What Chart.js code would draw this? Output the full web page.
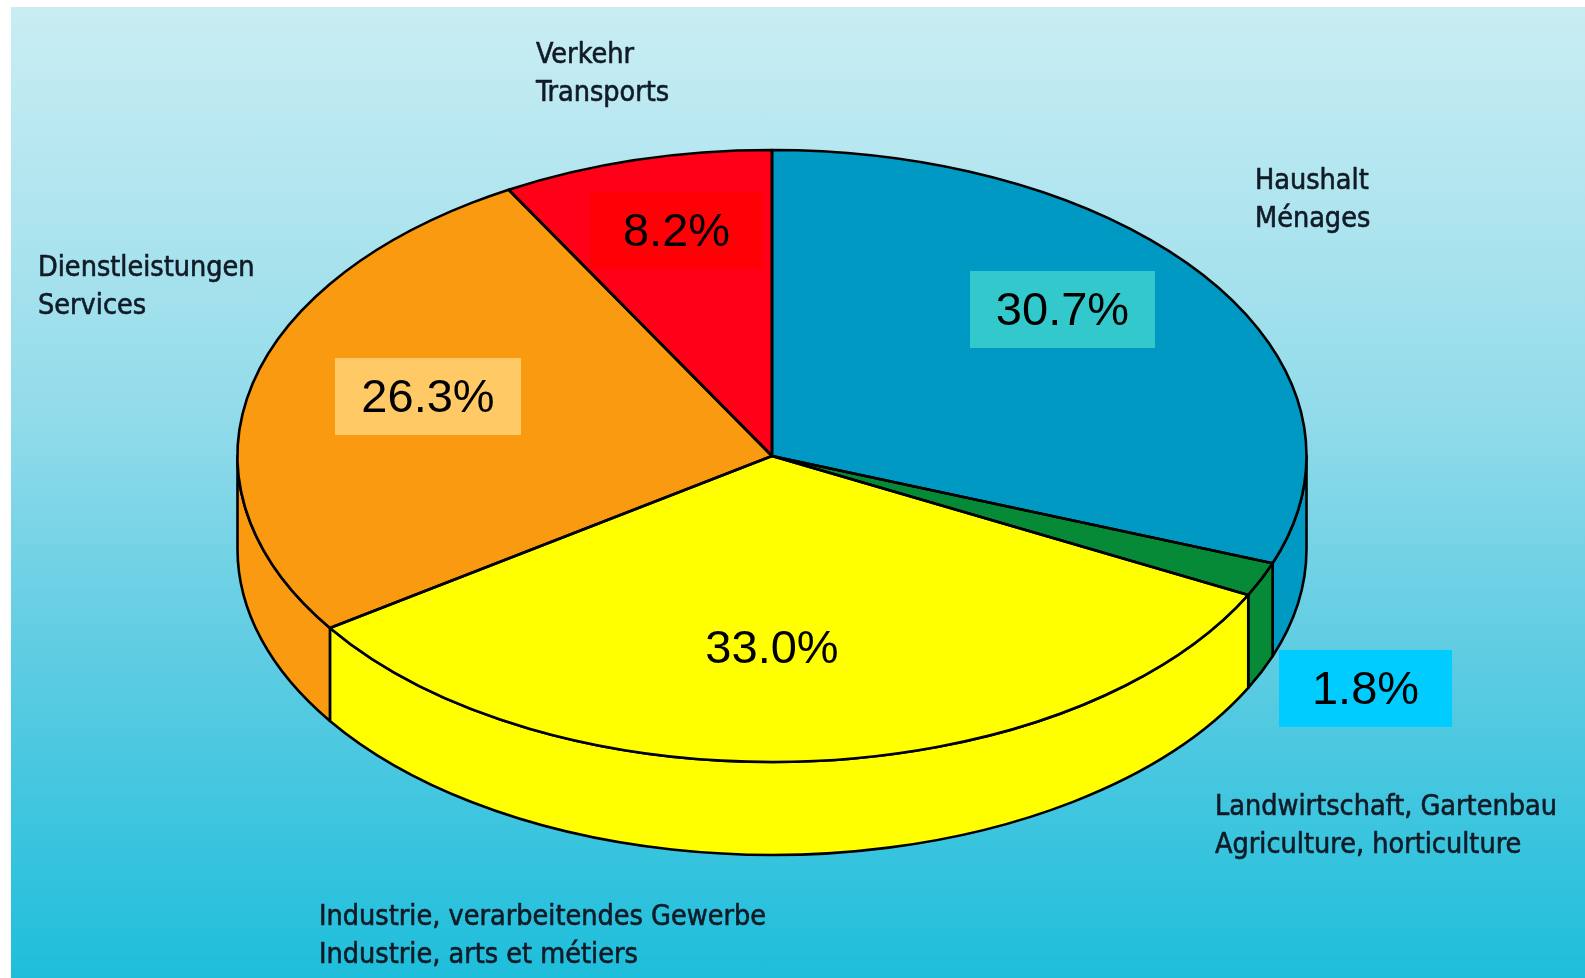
<!DOCTYPE html>
<html>
<head>
<meta charset="utf-8">
<script src="https://cdn.jsdelivr.net/npm/chart.js@4.4.1/dist/chart.umd.min.js"></script>
<style>
  html, body { margin: 0; padding: 0; background: #fff; }
  #wrap { position: relative; width: 1585px; height: 978px; overflow: hidden; }
  #bg {
    position: absolute; left: 11px; top: 7px; right: 0; bottom: 0;
    background: linear-gradient(to bottom, #c9edf3 0%, #b0e5ef 20%, #92dbea 42%, #62cde3 65%, #1ebedb 100%);
  }
  #chart { position: absolute; left: 0; top: 0; }
</style>
</head>
<body>
<div id="wrap">
  <div id="bg"></div>
  <canvas id="chart" width="1585" height="978"></canvas>
</div>
<script>
// --- data (slices clockwise from 12 o'clock) ---
const labelsDe = ['Haushalt', 'Landwirtschaft, Gartenbau', 'Industrie, verarbeitendes Gewerbe', 'Dienstleistungen', 'Verkehr'];
const labelsFr = ['Ménages', 'Agriculture, horticulture', 'Industrie, arts et métiers', 'Services', 'Transports'];
const shares   = [30.7, 1.8, 33.0, 26.3, 8.2];

// --- look ---
const sliceColors = ['#0099c4', '#068a38', '#ffff00', '#fa9a10', '#ff0018'];
const boxColors   = ['#33c8cc', '#00ccff', null, '#ffc966', '#ff0006'];
// where the value boxes and the category captions sit
const valueBoxes = [
  { x: 970, y: 271, w: 185, h: 77 },
  { x: 1279, y: 650, w: 173, h: 77 },
  { x: 690, y: 609, w: 164, h: 77 },
  { x: 335, y: 358, w: 186, h: 77 },
  { x: 590, y: 192, w: 173, h: 77 }
];
const captionPos = [
  { x: 1255, y: 182 },
  { x: 1215, y: 808 },
  { x: 319, y: 918 },
  { x: 38, y: 269 },
  { x: 536, y: 56 }
];
// projected pie: ellipse centre, radii and height of the side wall
const PIE = { cx: 772, cy: 456, rx: 534.5, ry: 306, depth: 93 };
const EDGE = '#000';

// ─── 3D pie plugin: side wall under the arcs, squash the arcs, outline + text ───
const pie3d = {
  id: 'pie3d',
  beforeDatasetsDraw(chart) {
    const ctx = chart.ctx;
    const arcs = chart.getDatasetMeta(0).data;
    const a0 = arcs[0];
    ctx.save();
    ctx.lineWidth = 2.6;
    ctx.strokeStyle = EDGE;
    ctx.lineJoin = 'round';
    // front wall, only the part between 0 and PI is visible
    arcs.forEach(arc => {
      const s = Math.max(arc.startAngle, 0);
      const e = Math.min(arc.endAngle, Math.PI);
      if (e <= s) return;
      ctx.beginPath();
      ctx.ellipse(PIE.cx, PIE.cy, PIE.rx, PIE.ry, 0, s, e);
      ctx.lineTo(PIE.cx + PIE.rx * Math.cos(e), PIE.cy + PIE.depth + PIE.ry * Math.sin(e));
      ctx.ellipse(PIE.cx, PIE.cy + PIE.depth, PIE.rx, PIE.ry, 0, e, s, true);
      ctx.closePath();
      ctx.fillStyle = arc.options.backgroundColor;
      ctx.fill();
      ctx.stroke();
    });
    ctx.restore();

    // squash the library's own arcs into the top ellipse
    ctx.save();
    ctx.translate(PIE.cx, PIE.cy);
    ctx.scale(PIE.rx / a0.outerRadius, PIE.ry / a0.outerRadius);
    ctx.translate(-a0.x, -a0.y);
  },
  afterDatasetsDraw(chart) {
    const ctx = chart.ctx;
    ctx.restore();
    const arcs = chart.getDatasetMeta(0).data;

    ctx.save();
    ctx.lineWidth = 2.6;
    ctx.strokeStyle = EDGE;
    ctx.lineJoin = 'round';
    arcs.forEach(arc => {
      ctx.beginPath();
      ctx.moveTo(PIE.cx, PIE.cy);
      ctx.ellipse(PIE.cx, PIE.cy, PIE.rx, PIE.ry, 0, arc.startAngle, arc.endAngle);
      ctx.closePath();
      ctx.stroke();
    });

    // value boxes
    ctx.textAlign = 'center';
    ctx.textBaseline = 'middle';
    ctx.font = '47px "Liberation Sans", Arial, sans-serif';
    shares.forEach((v, i) => {
      const b = valueBoxes[i];
      if (boxColors[i]) {
        ctx.fillStyle = boxColors[i];
        ctx.fillRect(b.x, b.y, b.w, b.h);
      }
      ctx.fillStyle = '#000';
      ctx.fillText(v.toFixed(1) + '%', b.x + b.w / 2, b.y + b.h / 2 + 3);
    });

    // category captions, German over French
    ctx.textAlign = 'left';
    ctx.fillStyle = '#101b27';
    ctx.strokeStyle = '#101b27';
    ctx.lineWidth = 0.6;
    ctx.font = '28.5px "Liberation Sans Narrow", "DejaVu Sans Condensed", sans-serif';
    labelsDe.forEach((de, i) => {
      const p = captionPos[i];
      [de, labelsFr[i]].forEach((t, k) => {
        ctx.fillText(t, p.x, p.y + k * 38);
        ctx.strokeText(t, p.x, p.y + k * 38);
      });
    });
    ctx.restore();
  }
};

new Chart(document.getElementById('chart').getContext('2d'), {
  type: 'pie',
  data: {
    labels: labelsDe,
    datasets: [{
      data: shares,
      backgroundColor: sliceColors,
      borderWidth: 0,
      hoverOffset: 0
    }]
  },
  options: {
    responsive: false,
    animation: false,
    events: [],
    plugins: {
      legend: { display: false },
      tooltip: { enabled: false }
    }
  },
  plugins: [pie3d]
});
</script>
</body>
</html>
